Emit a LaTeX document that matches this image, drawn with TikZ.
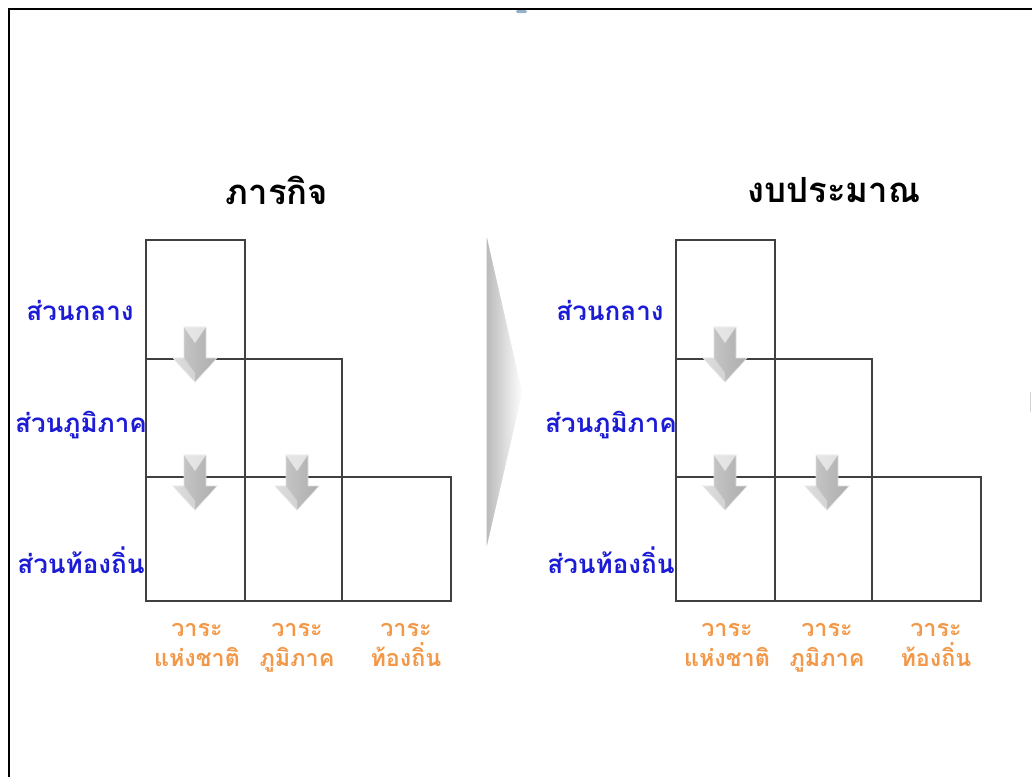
\documentclass[tikz,border=0pt]{standalone}
\usepackage{fontspec}
\usepackage{tikz}
\usetikzlibrary{calc}
\usepackage{xcolor}
\newfontfamily\thaifont[Script=Thai]{Loma}
\definecolor{levelblue}{RGB}{28,28,214}
\definecolor{agendaorange}{RGB}{242,152,72}
\definecolor{markblue}{RGB}{150,176,204}
\tikzset{
    title/.style={
        font=\thaifont\bfseries\fontsize{26}{30}\selectfont,
        text=black
    },
    level/.style={
        font=\thaifont\bfseries\fontsize{19.5}{23}\selectfont,
        text=levelblue
    },
    agenda/.style={
        font=\thaifont\bfseries\fontsize{17.5}{22.5}\selectfont,
        text=agendaorange,
        align=center,
        anchor=base
    },
    cell/.style={
        draw=black!75,
        line width=0.8pt
    },
    frame/.style={
        line width=2.2pt
    },
    flowarrow/.style={
        left color=gray!40,
        right color=gray!65,
        draw=gray!25,
        line width=0.4pt
    }
}

\begin{document}
\begin{tikzpicture}[x=0.75pt, y=-0.75pt]

  \useasboundingbox (0,0) rectangle (1032,776);

  % page frame
  \draw[frame] (9,795) -- (9,9) -- (1045,9);
  \fill[markblue, rounded corners=1] (516,10) rectangle (527,13);
  \draw[gray!35] (1030,392) -- (1030,412);

  % chevron between the panels
  \shade[left color=gray!55, right color=white, draw=white, line width=1pt]
    (486,230) -- (523,393) -- (486,553) -- cycle;

  \foreach \p/\dx/\tx/\head in {
      l/0/277/ภารกิจ,
      r/530/304/งบประมาณ}
    {
      \begin{scope}[shift={(\dx,0)}]
        \node[title] (\p-title) at (\tx,190) {\head};

        % grid
        \draw[cell] (146,240) rectangle (245,601);
        \draw[cell] (245,359) rectangle (342,601);
        \draw[cell] (342,477) rectangle (451,601);
        \draw[cell] (146,359) -- (342,359);
        \draw[cell] (146,477) -- (451,477);

        % levels
        \node[level] (\p-central) at (80,310) {ส่วนกลาง};
        \node[level] (\p-region) at (81,425) {ส่วนภูมิภาค};
        \node[level] (\p-local) at (81,560) {ส่วนท้องถิ่น};

        % agendas
        \node[agenda] (\p-national) at (197,666) {วาระ\\แห่งชาติ};
        \node[agenda] (\p-regional) at (297,666) {วาระ\\ภูมิภาค};
        \node[agenda] (\p-localag) at (406,666) {วาระ\\ท้องถิ่น};

        % down arrows
        \foreach \ax/\ay in {195/327, 195/455, 297/455}
          {
            \shade[flowarrow] (\ax-11,\ay) -- (\ax+11,\ay) -- (\ax+11,\ay+31)
              -- (\ax+22,\ay+31) -- (\ax,\ay+55) -- (\ax-22,\ay+31)
              -- (\ax-11,\ay+31) -- cycle;
            \fill[white, opacity=0.6] (\ax-11,\ay) -- (\ax+11,\ay) -- (\ax,\ay+16) -- cycle;
            \fill[white, opacity=0.35] (\ax-22,\ay+31) -- (\ax-11,\ay+31) -- (\ax,\ay+46)
              -- (\ax,\ay+55) -- cycle;
          }
      \end{scope}
    }

\end{tikzpicture}
\end{document}
